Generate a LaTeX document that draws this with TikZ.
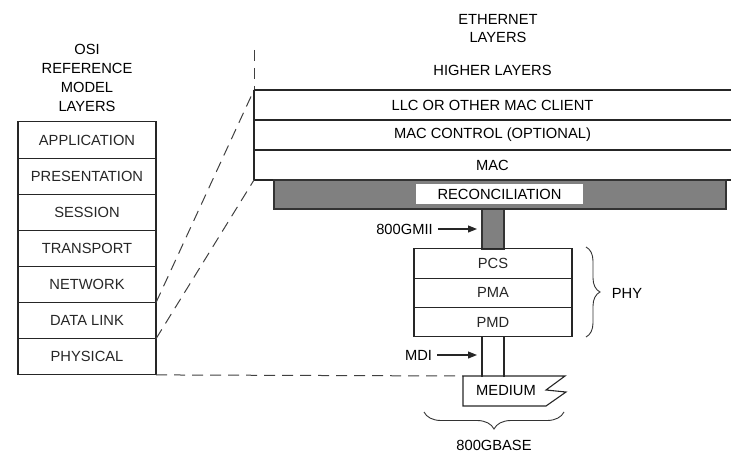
\documentclass[tikz,border=0pt]{standalone}
\usepackage{fontspec}
\setmainfont{Liberation Sans}
\usetikzlibrary{arrows.meta,positioning,decorations.pathreplacing}

\begin{document}
\begin{tikzpicture}[
    x=1pt, y=-1pt,
    % --- Text and lines ---
    lbl/.style={font=\fontsize{14.7}{19}\selectfont, inner sep=0pt, align=center},
    rule/.style={line width=1.1pt, black!85},
    guide/.style={line width=1pt, black!75, dash pattern=on 11pt off 7pt},
    arrow/.style={rule, -{Triangle[length=9pt,width=7pt]}, shorten <=5pt, shorten >=5pt},
    brace/.style={line width=0.9pt, black!80, decorate},
    % --- OSI stack ---
    osilayer/.style={lbl, rule, draw, minimum width=138pt, minimum height=36.14pt, outer sep=0pt},
    % --- Ethernet stack ---
    ethlayer/.style={lbl, minimum width=477pt, minimum height=30pt, outer sep=0pt},
    phylayer/.style={lbl, rule, draw, minimum width=158pt, minimum height=29.3pt, outer sep=0pt},
    graybar/.style={draw, line width=1.4pt, black!80, fill=black!50, outer sep=0pt},
]

\useasboundingbox (0,0) rectangle (731,452);

% === Titles ===
\node[lbl] (osititle) at (87,78) {OSI\\REFERENCE\\MODEL\\LAYERS};
\node[lbl, font=\fontsize{14.7}{18}\selectfont] (ethtitle) at (498,29) {ETHERNET\\LAYERS};

% === OSI reference model ===
\node[osilayer] (app) at (87,140) {APPLICATION};
\node[osilayer, below=0pt of app] (pres) {PRESENTATION};
\node[osilayer, below=0pt of pres] (sess) {SESSION};
\node[osilayer, below=0pt of sess] (trans) {TRANSPORT};
\node[osilayer, below=0pt of trans] (net) {NETWORK};
\node[osilayer, below=0pt of net] (dlink) {DATA LINK};
\node[osilayer, below=0pt of dlink] (phys) {PHYSICAL};

% === Ethernet layers ===
\node[ethlayer, minimum height=40pt] (higher) at (492.5,70) {HIGHER LAYERS};
\node[ethlayer, below=0pt of higher] (llc) {LLC OR OTHER MAC CLIENT};
\node[ethlayer, below=0pt of llc] (macctl) {MAC CONTROL (OPTIONAL)};
\node[ethlayer, below=0pt of macctl] (mac) {MAC};

\draw[guide] (higher.north west) -- (higher.south west);
\draw[rule] (llc.north west) -- (mac.south west);
\draw[rule] (llc.north west) -- (llc.north east);
\draw[rule] (macctl.north west) -- (macctl.north east);
\draw[rule] (mac.north west) -- (mac.north east);
\draw[rule] (mac.south west) -- (mac.south east);

% reconciliation sublayer and 800GMII
\node[graybar, minimum width=452pt, minimum height=29pt] (rs) at (500,194.5) {};
\node[lbl, fill=white, minimum width=167pt, minimum height=20pt] (rslbl) at (499.5,194) {RECONCILIATION};
\node[graybar, line width=1.1pt, minimum width=22pt, minimum height=40pt] (gmii) at (493,229) {};

% === PHY ===
\node[phylayer] (pcs) at (493,263.5) {PCS};
\node[phylayer, below=0pt of pcs] (pma) {PMA};
\node[phylayer, below=0pt of pma] (pmd) {PMD};

\node[minimum width=22pt, minimum height=40pt, inner sep=0pt, outer sep=0pt, below=0pt of pmd] (mdi) {};
\draw[rule] (mdi.north west) -- (mdi.south west);
\draw[rule] (mdi.north east) -- (mdi.south east);

% medium
\coordinate (mednw) at (463,376);
\draw[rule] (mednw) -- (565,376) -- (546,390) -- (566,392) -- (546,406) -- (463,406) -- cycle;
\node[lbl] (medium) at (506,391) {MEDIUM};

% === Interface arrows ===
\node[lbl] (gmiilbl) at (404.5,229) {800GMII};
\draw[arrow] (gmiilbl.east) -- (gmiilbl.east -| gmii.west);
\node[lbl] (mdilbl) at (418.5,355) {MDI};
\draw[arrow] (mdilbl.east) -- (mdilbl.east -| mdi.west);

% === Braces ===
\draw[brace, decoration={brace, amplitude=14pt}] (586,247) -- (586,337);
\node[lbl] (phy) at (627,293) {PHY};
\draw[brace, decoration={brace, amplitude=17pt}] (564,412) -- (424,412);
\node[lbl] (base) at (494,445) {800GBASE};

% === Mapping between the two models ===
\draw[guide] (dlink.north east) -- (llc.north west);
\draw[guide] (dlink.south east) -- (mac.south west);
\draw[guide] (phys.south east) -- (mednw);

\end{tikzpicture}
\end{document}
